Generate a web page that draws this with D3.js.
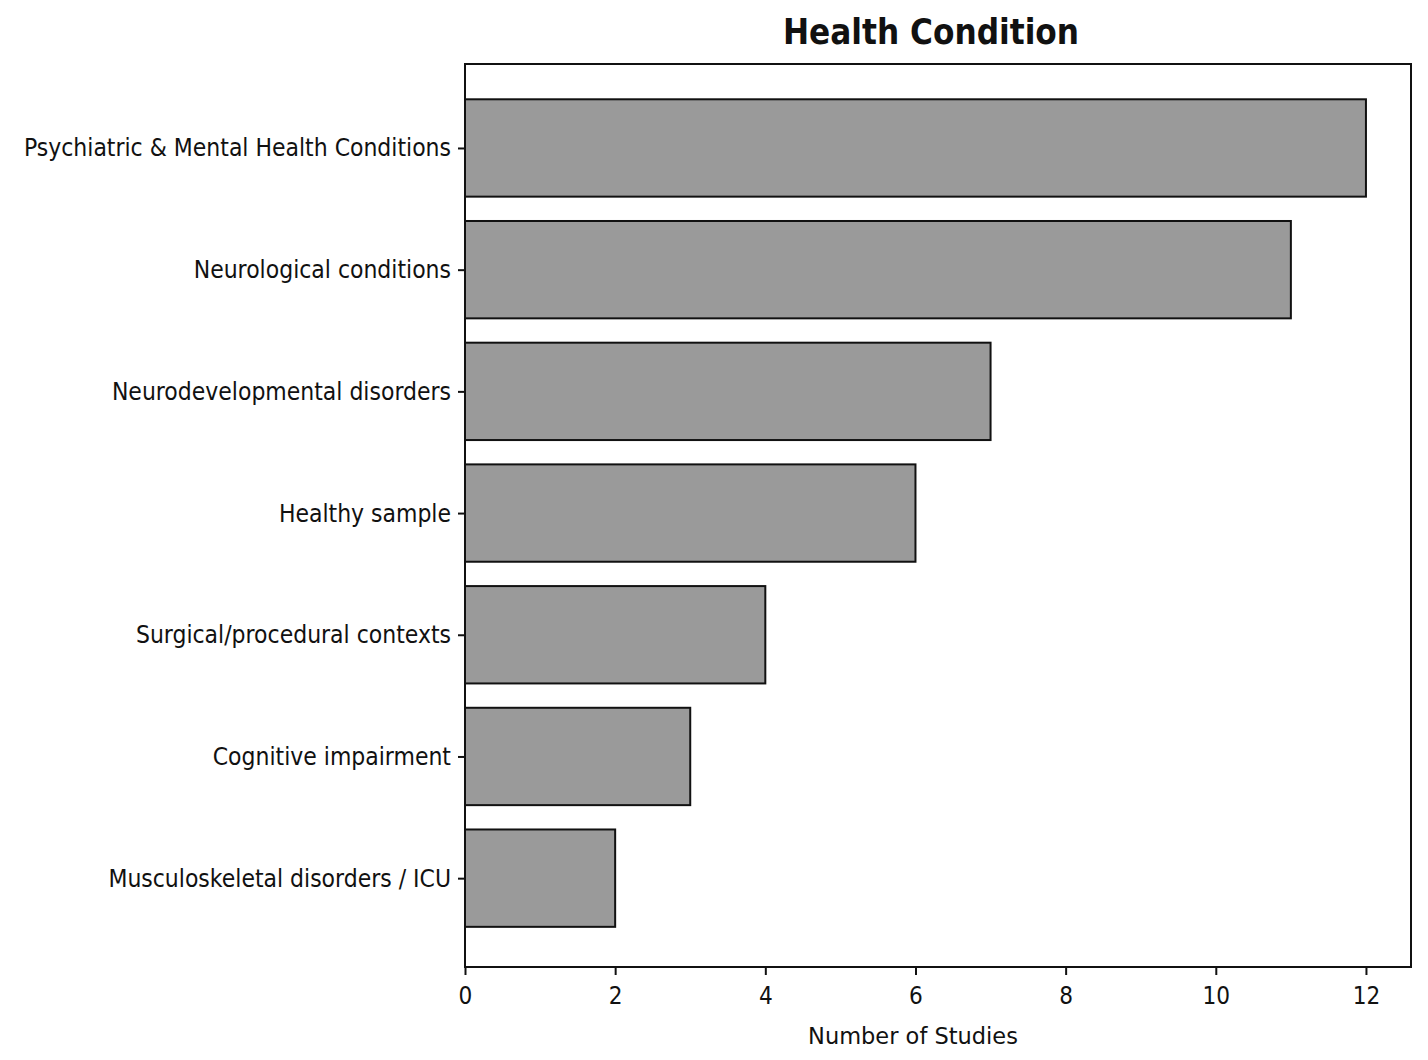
<!DOCTYPE html>
<html>
<head>
<meta charset="utf-8">
<script src="https://cdn.jsdelivr.net/npm/d3@7"></script>
<style>
  html, body { margin: 0; padding: 0; background: #fff; }
  svg { display: block; }
</style>
</head>
<body>
<div id="chart"></div>
<script>
// data, top to bottom
const categories = [
  "Psychiatric & Mental Health Conditions",
  "Neurological conditions",
  "Neurodevelopmental disorders",
  "Healthy sample",
  "Surgical/procedural contexts",
  "Cognitive impairment",
  "Musculoskeletal disorders / ICU"
];
const studyCounts = [12, 11, 7, 6, 4, 3, 2];
const xTicks = [0, 2, 4, 6, 8, 10, 12];

const width = 1428,
      height = 1060,
      marginTop = 64,
      marginRight = 17,
      marginBottom = 93,
      marginLeft = 465;

const font = "'DejaVu Sans', sans-serif";
const squeeze = 0.88; // reference text is a little narrow for its height

const svg = d3.select("#chart").append("svg")
    .attr("width", width)
    .attr("height", height)
    .attr("viewBox", [0, 0, width, height])
    .attr("font-family", font);

svg.append("rect")
    .attr("width", width)
    .attr("height", height)
    .attr("fill", "#fff");

// matplotlib style limits: 0 sticky, 5% margin on the right
const x = d3.scaleLinear()
    .domain([0, d3.max(studyCounts) * 1.05])
    .range([marginLeft, width - marginRight]);

const y = d3.scaleLinear()
    .domain([-0.69, categories.length - 1 + 0.73])
    .range([marginTop, height - marginBottom]);

const barHeight = 0.8 * (y(1) - y(0));

// bars
svg.append("g")
  .selectAll("rect")
  .data(studyCounts)
  .join("rect")
    .attr("x", x(0))
    .attr("y", (d, i) => y(i) - barHeight / 2)
    .attr("width", d => x(d) - x(0))
    .attr("height", barHeight)
    .attr("fill", "#9a9a9a")
    .attr("stroke", "#111")
    .attr("stroke-width", 2);

// x axis
const xAxis = svg.append("g")
    .attr("transform", `translate(0,${height - marginBottom})`)
    .call(d3.axisBottom(x).tickValues(xTicks).tickSize(8).tickPadding(11).tickFormat(d3.format("d")));

// y axis
const yAxis = svg.append("g")
    .attr("transform", `translate(${marginLeft},0)`)
    .call(d3.axisLeft(y).tickValues(d3.range(categories.length))
      .tickSize(7).tickPadding(7).tickFormat(i => categories[i]));

[xAxis, yAxis].forEach(ax => {
  ax.select(".domain").remove();
  ax.selectAll(".tick line").attr("stroke", "#111").attr("stroke-width", 2);
  ax.selectAll(".tick text")
      .attr("fill", "#111")
      .attr("font-family", font);
});

xAxis.selectAll(".tick text")
    .attr("font-size", 25.5)
    .attr("transform", "scale(0.85,1)");

yAxis.selectAll(".tick text")
    .attr("font-size", 25)
    .attr("x", -14 / squeeze)
    .attr("transform", `scale(${squeeze},1)`);

// frame (all four spines)
svg.append("rect")
    .attr("x", marginLeft)
    .attr("y", marginTop)
    .attr("width", width - marginRight - marginLeft)
    .attr("height", height - marginBottom - marginTop)
    .attr("fill", "none")
    .attr("stroke", "#111")
    .attr("stroke-width", 2);

// title
svg.append("text")
    .attr("transform", `translate(931,44) scale(${squeeze},1)`)
    .attr("text-anchor", "middle")
    .attr("font-size", 35.5)
    .attr("font-weight", "bold")
    .attr("fill", "#111")
    .text("Health Condition");

// x label
svg.append("text")
    .attr("x", 913)
    .attr("y", 1044)
    .attr("text-anchor", "middle")
    .attr("font-size", 22.5)
    .attr("fill", "#111")
    .text("Number of Studies");
</script>
</body>
</html>
